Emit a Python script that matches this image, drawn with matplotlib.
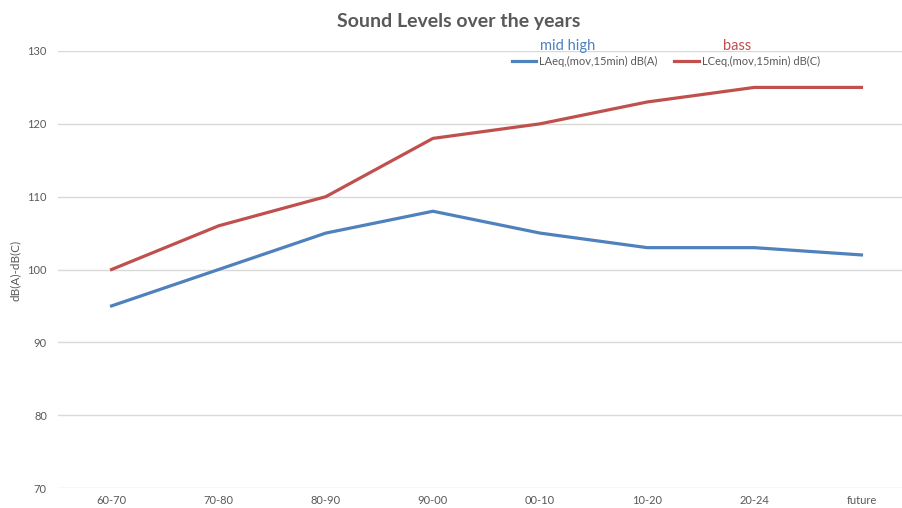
import matplotlib
matplotlib.use("Agg")
import matplotlib.pyplot as plt

plt.rcParams['font.family'] = ['Lato', 'DejaVu Sans']

periods = ['60-70', '70-80', '80-90', '90-00', '00-10', '10-20', '20-24', 'future']
laeq = [95, 100, 105, 108, 105, 103, 103, 102]
lceq = [100, 106, 110, 118, 120, 123, 125, 125]

blue = '#4F81BD'
red = '#C0504D'
grey = '#595959'

fig = plt.figure(figsize=(9.02, 5.08), dpi=100)
# plot area runs a bit past the right edge, as in the cropped original
ax = fig.add_axes([58 / 902, 20 / 508, 857 / 902, 437 / 508])

x = range(len(periods))
ax.plot(x, laeq, color=blue, lw=2.3, label='LAeq,(mov,15min) dB(A)')
ax.plot(x, lceq, color=red, lw=2.3, label='LCeq,(mov,15min) dB(C)')

ax.set_xlim(-0.5, len(periods) - 0.5)
ax.set_ylim(70, 130)
ax.set_yticks(range(70, 131, 10))
ax.set_xticks(list(x))
ax.set_xticklabels(periods)
ax.grid(axis='y', color='#D9D9D9', lw=1)
ax.set_axisbelow(True)
for s in ax.spines.values():
    s.set_visible(False)
ax.tick_params(length=0, colors=grey, labelsize=8, pad=8)
ax.tick_params(axis='x', pad=5)

fig.text(15 / 902, 1 - 270 / 508, 'dB(A)-dB(C)', rotation=90, ha='center', va='center',
         color=grey, fontsize=8.5)

fig.text(459 / 902, 1 - 21 / 508, 'Sound Levels over the years', ha='center', va='center',
         fontsize=14, fontweight='bold', color=grey)

fig.legend(loc='center', bbox_to_anchor=(666 / 902, 1 - 61 / 508), ncol=2, frameon=False,
           fontsize=8, handlelength=2.2, handletextpad=0.3, columnspacing=1.5,
           labelcolor=grey)
fig.text(568 / 902, 1 - 46 / 508, 'mid high', ha='center', va='center', fontsize=10.5, color=blue)
fig.text(737 / 902, 1 - 46 / 508, 'bass', ha='center', va='center', fontsize=10.5, color=red)

fig.savefig('out.png', dpi=100)
